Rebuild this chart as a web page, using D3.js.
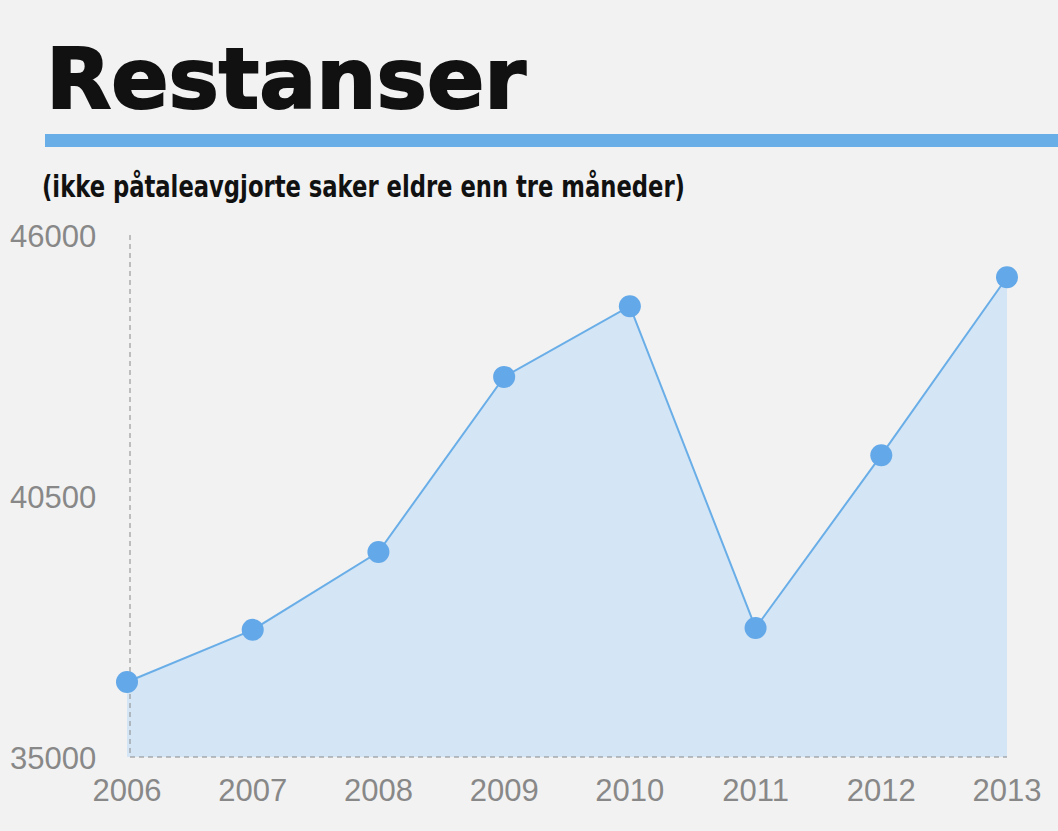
<!DOCTYPE html>
<html>
<head>
<meta charset="utf-8">
<script src="https://cdn.jsdelivr.net/npm/d3@7"></script>
<style>
body { margin: 0; background: #f2f2f2; }
</style>
</head>
<body>
<div id="chart-area"></div>
<script>
var years = ["2006","2007","2008","2009","2010","2011","2012","2013"];
var values = [36580, 37680, 39320, 43010, 44500, 37720, 41360, 45110];
var yTicks = [35000, 40500, 46000];

var width = 1058, height = 831;
var svg = d3.select("#chart-area").append("svg")
    .attr("width", width).attr("height", height)
    .style("background", "#f2f2f2");

// title
svg.append("text")
    .attr("x", 46).attr("y", 108)
    .attr("font-family", "DejaVu Sans")
    .attr("font-weight", "bold")
    .attr("font-size", "84px")
    .attr("textLength", 480)
    .attr("lengthAdjust", "spacingAndGlyphs")
    .attr("fill", "#111")
    .attr("stroke", "#111").attr("stroke-width", 2)
    .text("Restanser");

svg.append("rect")
    .attr("x", 45).attr("y", 134)
    .attr("width", width - 45).attr("height", 13)
    .attr("fill", "#6aaee8");

svg.append("text")
    .attr("x", 42).attr("y", 197)
    .attr("font-family", "DejaVu Sans Condensed")
    .attr("font-weight", "bold")
    .attr("font-size", "30px")
    .attr("textLength", 643)
    .attr("lengthAdjust", "spacingAndGlyphs")
    .attr("fill", "#111")
    .text("(ikke påtaleavgjorte saker eldre enn tre måneder)");

var x = d3.scalePoint().domain(years).range([127, 1007]);
var y = d3.scaleLinear().domain([35000, 46000]).range([757, 235]);

// area
var area = d3.area()
    .x((d, i) => x(years[i]))
    .y0(y(35000))
    .y1(d => y(d));
svg.append("path").datum(values)
    .attr("d", area)
    .attr("fill", "#d4e5f5");

// dashed axes
svg.append("line")
    .attr("x1", 130).attr("x2", 130)
    .attr("y1", y(46000)).attr("y2", y(35000))
    .attr("stroke", "#888").attr("stroke-dasharray", "5,4");
svg.append("line")
    .attr("x1", 130).attr("x2", 1007)
    .attr("y1", y(35000)).attr("y2", y(35000))
    .attr("stroke", "#888").attr("stroke-dasharray", "5,4");

// line
var line = d3.line()
    .x((d, i) => x(years[i]))
    .y(d => y(d));
svg.append("path").datum(values)
    .attr("d", line)
    .attr("fill", "none")
    .attr("stroke", "#6aaee8")
    .attr("stroke-width", 2);

svg.selectAll("circle").data(values).enter()
    .append("circle")
    .attr("cx", (d, i) => x(years[i]))
    .attr("cy", d => y(d))
    .attr("r", 11)
    .attr("fill", "#63a8e8");

// y labels
svg.selectAll(".ylab").data(yTicks).enter()
    .append("text")
    .attr("class", "ylab")
    .attr("x", 10)
    .attr("y", d => y(d) + 12)
    .attr("font-family", "Liberation Sans")
    .attr("font-size", "31px")
    .attr("fill", "#888")
    .text(d => d);

// x labels
svg.selectAll(".xlab").data(years).enter()
    .append("text")
    .attr("class", "xlab")
    .attr("x", d => x(d))
    .attr("y", 801)
    .attr("text-anchor", "middle")
    .attr("font-family", "Liberation Sans")
    .attr("font-size", "31px")
    .attr("fill", "#888")
    .text(d => d);
</script>
</body>
</html>
